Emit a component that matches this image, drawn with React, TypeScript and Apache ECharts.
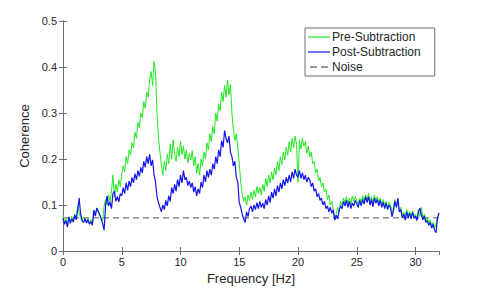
import React, { useEffect, useRef } from "react";
import * as echarts from "echarts";

// Frequency grid: 0 .. 32 Hz at 0.125 Hz spacing (8 samples per Hz)
const SAMPLES_PER_HZ = 8;

const preSubtraction: number[] = [
  0.078, 0.062, 0.070, 0.058, 0.072, 0.064, 0.075, 0.066,
  0.080, 0.070, 0.098, 0.082, 0.072, 0.066, 0.074, 0.068,
  0.064, 0.070, 0.060, 0.068, 0.058, 0.086, 0.078, 0.094,
  0.088, 0.080, 0.072, 0.066, 0.098, 0.112, 0.100, 0.122,
  0.108, 0.130, 0.165, 0.118, 0.145, 0.128, 0.155, 0.140,
  0.168, 0.185, 0.172, 0.205, 0.190, 0.220, 0.208, 0.235,
  0.225, 0.258, 0.245, 0.280, 0.268, 0.300, 0.290, 0.325,
  0.310, 0.345, 0.335, 0.372, 0.390, 0.360, 0.412, 0.385,
  0.300, 0.245, 0.215, 0.185, 0.165, 0.195, 0.175, 0.210,
  0.190, 0.232, 0.200, 0.242, 0.210, 0.195, 0.225, 0.205,
  0.238, 0.210, 0.228, 0.200, 0.220, 0.192, 0.212, 0.198,
  0.218, 0.185, 0.205, 0.170, 0.190, 0.165, 0.200, 0.185,
  0.215, 0.200, 0.235, 0.220, 0.255, 0.238, 0.270, 0.255,
  0.300, 0.282, 0.320, 0.305, 0.345, 0.325, 0.360, 0.335,
  0.372, 0.340, 0.362, 0.300, 0.265, 0.240, 0.255, 0.225,
  0.190, 0.150, 0.125, 0.108, 0.118, 0.100, 0.122, 0.110,
  0.128, 0.112, 0.132, 0.118, 0.140, 0.125, 0.138, 0.122,
  0.145, 0.130, 0.158, 0.140, 0.165, 0.148, 0.172, 0.155,
  0.180, 0.165, 0.195, 0.175, 0.205, 0.188, 0.215, 0.198,
  0.225, 0.208, 0.238, 0.215, 0.245, 0.225, 0.250, 0.232,
  0.150, 0.240, 0.222, 0.245, 0.228, 0.238, 0.212, 0.228,
  0.205, 0.215, 0.190, 0.195, 0.170, 0.178, 0.152, 0.160,
  0.140, 0.148, 0.128, 0.135, 0.112, 0.122, 0.100, 0.108,
  0.090, 0.068, 0.080, 0.095, 0.085, 0.108, 0.098, 0.115,
  0.105, 0.118, 0.102, 0.115, 0.100, 0.120, 0.108, 0.118,
  0.110, 0.100, 0.115, 0.105, 0.120, 0.108, 0.122, 0.110,
  0.125, 0.108, 0.118, 0.102, 0.122, 0.110, 0.118, 0.105,
  0.115, 0.100, 0.112, 0.098, 0.108, 0.095, 0.106, 0.100,
  0.080, 0.095, 0.112, 0.098, 0.105, 0.088, 0.095, 0.078,
  0.085, 0.072, 0.090, 0.078, 0.086, 0.074, 0.088, 0.076,
  0.080, 0.070, 0.090, 0.075, 0.095, 0.072, 0.080, 0.066,
  0.072, 0.060, 0.068, 0.055, 0.062, 0.050, 0.060, 0.075,
  0.082,
];

const postSubtraction: number[] = [
  0.072, 0.058, 0.066, 0.052, 0.074, 0.060, 0.070, 0.063,
  0.078, 0.068, 0.090, 0.115, 0.080, 0.066, 0.062, 0.070,
  0.061, 0.068, 0.058, 0.064, 0.056, 0.089, 0.076, 0.093,
  0.086, 0.078, 0.070, 0.060, 0.045, 0.100, 0.120, 0.098,
  0.107, 0.092, 0.125, 0.130, 0.108, 0.118, 0.107, 0.125,
  0.120, 0.138, 0.125, 0.148, 0.132, 0.152, 0.140, 0.160,
  0.148, 0.168, 0.155, 0.175, 0.162, 0.182, 0.170, 0.195,
  0.182, 0.205, 0.190, 0.210, 0.185, 0.198, 0.165, 0.150,
  0.118, 0.105, 0.095, 0.085, 0.100, 0.090, 0.110, 0.098,
  0.120, 0.108, 0.138, 0.125, 0.145, 0.130, 0.155, 0.140,
  0.165, 0.148, 0.175, 0.155, 0.160, 0.142, 0.152, 0.138,
  0.148, 0.128, 0.140, 0.120, 0.135, 0.125, 0.150, 0.138,
  0.165, 0.150, 0.175, 0.160, 0.178, 0.165, 0.190, 0.178,
  0.205, 0.190, 0.220, 0.205, 0.240, 0.225, 0.262, 0.245,
  0.235, 0.250, 0.215, 0.205, 0.185, 0.195, 0.160, 0.150,
  0.105, 0.095, 0.080, 0.070, 0.062, 0.085, 0.075, 0.092,
  0.098, 0.085, 0.100, 0.090, 0.105, 0.092, 0.108, 0.095,
  0.104, 0.092, 0.112, 0.100, 0.120, 0.105, 0.128, 0.115,
  0.135, 0.120, 0.142, 0.128, 0.148, 0.135, 0.155, 0.142,
  0.160, 0.148, 0.165, 0.150, 0.172, 0.158, 0.178, 0.165,
  0.160, 0.175, 0.158, 0.170, 0.155, 0.165, 0.150, 0.160,
  0.155, 0.140, 0.148, 0.130, 0.135, 0.118, 0.125, 0.110,
  0.115, 0.100, 0.108, 0.092, 0.098, 0.085, 0.095, 0.082,
  0.090, 0.067, 0.078, 0.070, 0.088, 0.098, 0.092, 0.108,
  0.098, 0.110, 0.095, 0.108, 0.092, 0.104, 0.098, 0.110,
  0.102, 0.095, 0.110, 0.098, 0.112, 0.102, 0.118, 0.105,
  0.118, 0.100, 0.112, 0.096, 0.115, 0.104, 0.112, 0.098,
  0.110, 0.095, 0.106, 0.092, 0.104, 0.090, 0.100, 0.094,
  0.074, 0.088, 0.108, 0.095, 0.115, 0.085, 0.090, 0.072,
  0.080, 0.067, 0.085, 0.072, 0.082, 0.070, 0.084, 0.072,
  0.076, 0.066, 0.085, 0.093, 0.078, 0.068, 0.076, 0.062,
  0.066, 0.056, 0.062, 0.050, 0.058, 0.045, 0.040, 0.072,
  0.083,
];

const noiseFreqs: number[] = [0, 32];
const noiseLevel: number[] = [0.072, 0.072];

const seriesNames: string[] = ["Pre-Subtraction", "Post-Subtraction", "Noise"];
const xTicks: number[] = [0, 5, 10, 15, 20, 25, 30];
const yTicks: number[] = [0, 0.1, 0.2, 0.3, 0.4, 0.5];

const toPairs = (vals: number[]) =>
  vals.map((v, i) => [i / SAMPLES_PER_HZ, v]);

const FONT = "'Liberation Sans', Arial, sans-serif";
const AXIS_COLOR = "#6e6e6e";
const TEXT_COLOR = "#262626";
const GREEN = "#22e822";
const BLUE = "#1414f0";
const GRAY = "#555555";

const SOLID_ICON = "path://M0,0h22v1.2h-22z";
const DASH_ICON = "path://M0,0h7v1.2h-7z M11,0h7v1.2h-7z";

export default function App() {
  const ref = useRef<HTMLDivElement>(null);

  useEffect(() => {
    if (!ref.current) return;
    const chart = echarts.init(ref.current, undefined, { renderer: "svg" });

    const line = { show: true, lineStyle: { color: AXIS_COLOR, width: 1 } };
    const tick = { show: true, inside: true, length: 4, lineStyle: { color: AXIS_COLOR, width: 1 } };

    chart.setOption({
      animation: false,
      backgroundColor: "#ffffff",
      textStyle: { fontFamily: FONT },
      grid: { left: 63, right: 46, top: 21, bottom: 40, containLabel: false },
      legend: {
        orient: "vertical",
        left: 305,
        top: 28,
        data: [
          { name: seriesNames[0], icon: SOLID_ICON, itemStyle: { color: GREEN } },
          { name: seriesNames[1], icon: SOLID_ICON, itemStyle: { color: BLUE } },
          { name: seriesNames[2], icon: DASH_ICON, itemStyle: { color: "#333333" } },
        ],
        itemWidth: 22,
        itemHeight: 1.2,
        itemGap: 3,
        padding: [3, 14, 3, 3],
        backgroundColor: "#ffffff",
        borderColor: "#6e6e6e",
        borderWidth: 1,
        borderRadius: 0,
        textStyle: { fontFamily: FONT, fontSize: 12, color: TEXT_COLOR, padding: [0, 0, 0, -3] },
      },
      xAxis: [
        {
          type: "value",
          position: "bottom",
          min: 0,
          max: 32,
          interval: 5,
          axisLine: line,
          axisTick: tick,
          splitLine: { show: false },
          name: "Frequency [Hz]",
          nameLocation: "middle",
          nameGap: 21,
          nameTextStyle: { fontFamily: FONT, fontSize: 13, color: TEXT_COLOR },
          axisLabel: {
            fontFamily: FONT,
            fontSize: 11,
            color: TEXT_COLOR,
            margin: 5,
            showMaxLabel: false,
            formatter: (v: number) => (xTicks.includes(v) ? String(v) : ""),
          },
        },
        {
          type: "value",
          position: "top",
          min: 0,
          max: 32,
          interval: 5,
          axisLine: line,
          axisTick: tick,
          splitLine: { show: false },
          axisLabel: { show: false },
        },
      ],
      yAxis: [
        {
          type: "value",
          position: "left",
          min: 0,
          max: 0.5,
          interval: 0.1,
          axisLine: line,
          axisTick: tick,
          splitLine: { show: false },
          name: "Coherence",
          nameLocation: "middle",
          nameGap: 31,
          nameRotate: 90,
          nameTextStyle: { fontFamily: FONT, fontSize: 13, color: TEXT_COLOR },
          axisLabel: {
            fontFamily: FONT,
            fontSize: 11,
            color: TEXT_COLOR,
            margin: 6,
            formatter: (v: number) => {
              const t = yTicks.find((y) => Math.abs(y - v) < 1e-9);
              return t === undefined ? "" : String(t);
            },
          },
        },
        {
          type: "value",
          position: "right",
          min: 0,
          max: 0.5,
          interval: 0.1,
          axisLine: line,
          axisTick: tick,
          splitLine: { show: false },
          axisLabel: { show: false },
        },
      ],
      series: [
        {
          name: seriesNames[0],
          type: "line",
          data: toPairs(preSubtraction),
          symbol: "none",
          lineStyle: { color: GREEN, width: 1 },
          itemStyle: { color: GREEN },
          z: 2,
        },
        {
          name: seriesNames[1],
          type: "line",
          data: toPairs(postSubtraction),
          symbol: "none",
          lineStyle: { color: BLUE, width: 1.2 },
          itemStyle: { color: BLUE },
          z: 3,
        },
        {
          name: seriesNames[2],
          type: "line",
          data: noiseFreqs.map((f, i) => [f, noiseLevel[i]]),
          symbol: "none",
          lineStyle: { color: GRAY, width: 1, type: [6, 4] },
          itemStyle: { color: GRAY },
          z: 1,
        },
      ],
    });

    return () => chart.dispose();
  }, []);

  return (
    <div
      ref={ref}
      style={{ position: "fixed", left: 0, top: 0, width: 485, height: 291 }}
    />
  );
}
